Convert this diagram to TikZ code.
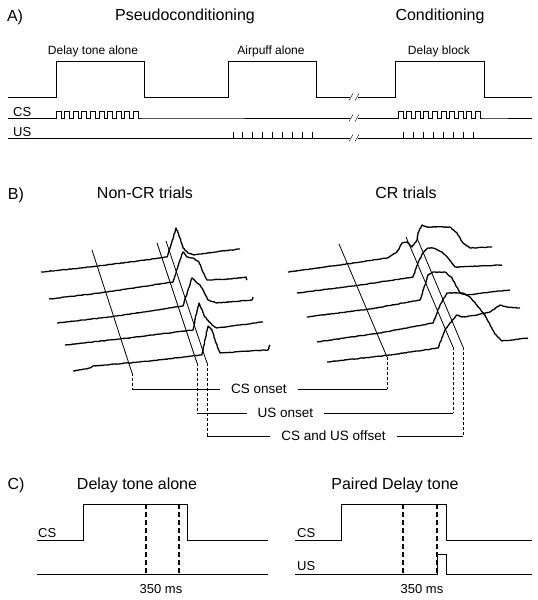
\documentclass[tikz,border=0pt]{standalone}
\usepackage{fontspec}
\setmainfont{Liberation Sans}
\usetikzlibrary{decorations.pathmorphing}

\begin{document}
\pgfmathsetseed{17}
\begin{tikzpicture}[x=1pt, y=-1pt,
    panelletter/.style	= {font=\fontsize{16}{18}\selectfont},
    heading/.style		= {font=\fontsize{16}{18}\selectfont},
    blocklabel/.style	= {font=\fontsize{12}{14}\selectfont},
    siglabel/.style		= {font=\fontsize{13}{15}\selectfont, anchor=base west, inner sep=0pt},
    evlabel/.style		= {font=\fontsize{13.5}{16}\selectfont, fill=white, inner xsep=11pt, inner ysep=1pt},
    waveline/.style		= {line width=1pt},
    trace/.style		= {line width=1.3pt, line join=round, decorate,
                           decoration={random steps, segment length=1.6pt, amplitude=0.3pt}},
    eventline/.style	= {line width=0.8pt},
    dropline/.style		= {line width=0.6pt, dash pattern=on 3pt off 2pt},
    gateline/.style		= {line width=1.2pt, dash pattern=on 5pt off 3pt},
    %breakmark/.style	= {thin},
    ]
\useasboundingbox (0,0) rectangle (538,600);

% ---------- A) ----------
\node[panelletter] (labA) at (15,17) {A)};
\node[heading] (pseudo) at (185,16) {Pseudoconditioning};
\node[heading] (cond) at (440,16) {Conditioning};
\node[blocklabel] (toneAlone) at (93,51) {Delay tone alone};
\node[blocklabel] (puffAlone) at (271,51) {Airpuff alone};
\node[blocklabel] (delayBlock) at (439,51) {Delay block};

% block line
\draw[waveline] (8,97) -- (56,97) -- (56,61) -- (144,61) -- (144,97) -- (228,97) -- (228,61) -- (316,61) -- (316,97) -- (350,97);
\draw[waveline] (358,97) -- (395,97) -- (395,61) -- (484,61) -- (484,97) -- (532,97);

% CS line
\node[siglabel] (csA) at (13,116) {CS};
\draw[waveline] (8,118) -- (56,118) \foreach \k in {1,...,10}{ -- ++(0,-7) -- ++(5,0) -- ++(0,7) -- ++(3.6,0)} -- (350,118);
\draw[waveline] (358,118) -- (398,118) \foreach \k in {1,...,10}{ -- ++(0,-7) -- ++(5,0) -- ++(0,7) -- ++(3.6,0)} -- (532,118);

% US line
\node[siglabel] (usA) at (13,136.5) {US};
\draw[waveline] (8,138) -- (350,138);
\draw[waveline] (358,138) -- (532,138);
\foreach \k in {0,...,8} \draw[waveline] ({233+9.9*\k},138) -- ++(0,-6);
\foreach \k in {0,...,7} \draw[waveline] ({403+10*\k},138) -- ++(0,-6);

% breaks
\foreach \y in {97,118,138} {
    \draw[thin] (349,\y+3.5) -- (353,\y-3.5);
    \draw[thin] (355,\y+3.5) -- (359,\y-3.5);
}

% ---------- B) ----------
\node[panelletter] (labB) at (16,195) {B)};
\node[heading] (nonCR) at (145,193) {Non-CR trials};
\node[heading] (CR) at (406,193) {CR trials};

% non-CR traces
\draw[trace] (41,272) -- (90,267) -- (130,262) -- (167,257) -- (171,245) -- (176,228) -- (180,238) -- (183,248) -- (188,253) -- (194,255) -- (215,252) -- (240,249);
\draw[trace] (49,299) -- (100,293) -- (140,287) -- (173,282) -- (178,266) -- (183,252) -- (187,257) -- (193,258) -- (199,262) -- (203,272) -- (207,280) -- (230,279) -- (246,277) -- (247,280);
\draw[trace] (57,323) -- (110,317) -- (150,311) -- (183,306) -- (188,290) -- (192,278) -- (197,283) -- (200,285) -- (203,290) -- (208,300) -- (217,303) -- (240,301) -- (252,300) -- (253,297);
\draw[trace] (65,345) -- (120,339) -- (160,334) -- (193,330) -- (196,315) -- (199,303) -- (205,317) -- (212,325) -- (217,328) -- (240,325) -- (263,322);
\draw[trace] (73,371) -- (90,368) -- (93,366) -- (140,362) -- (202,355) -- (205,340) -- (208,326) -- (212,330) -- (215,340) -- (220,353) -- (250,351) -- (268,350) -- (270,345);

% CR traces
\draw[trace] (288,272) -- (340,265) -- (387,258) -- (397,252) -- (402,243) -- (407,242) -- (412,247) -- (417,240) -- (418,233) -- (422,225) -- (427,227) -- (450,227) -- (457,233) -- (463,243) -- (470,248) -- (492,247);
\draw[trace] (297,293) -- (360,285) -- (413,277) -- (418,263) -- (423,253) -- (428,248) -- (433,248) -- (442,252) -- (448,258) -- (455,267) -- (480,266) -- (502,265);
\draw[trace] (307,317) -- (370,309) -- (420,300) -- (425,285) -- (428,275) -- (433,272) -- (445,272) -- (452,278) -- (460,293) -- (467,295) -- (490,292) -- (510,290);
\draw[trace] (317,342) -- (380,333) -- (433,323) -- (440,305) -- (447,293) -- (463,293) -- (470,297) -- (485,315) -- (495,334) -- (502,341) -- (528,338);
\draw[trace] (327,362) -- (390,355) -- (438,348) -- (445,330) -- (450,323) -- (457,315) -- (462,317) -- (470,316) -- (477,315) -- (490,312) -- (500,305) -- (507,307) -- (520,308);

% event lines
\coordinate (ncCsT) at (92,250);   \coordinate (ncCsB) at (132,373);
\coordinate (ncUsT) at (157,243);  \coordinate (ncUsB) at (197,363);
\coordinate (ncOffT) at (166,241); \coordinate (ncOffB) at (207,363);
\coordinate (crCsT) at (339,244);  \coordinate (crCsB) at (387,357);
\coordinate (crUsT) at (406,237);  \coordinate (crUsB) at (453,347);
\coordinate (crOffT) at (417,238); \coordinate (crOffB) at (463,347);
\draw[eventline] (ncCsT) -- (ncCsB);
\draw[eventline] (ncUsT) -- (ncUsB);
\draw[eventline] (ncOffT) -- (ncOffB);
\draw[eventline] (crCsT) -- (crCsB);
\draw[eventline] (crUsT) -- (crUsB);
\draw[eventline] (crOffT) -- (crOffB);

\node[evlabel] (csOnset) at (259,389) {CS onset};
\node[evlabel] (usOnset) at (285.5,413) {US onset};
\node[evlabel] (offset) at (333.5,436) {CS and US offset};
\coordinate (csOnL) at (132,389);  \coordinate (csOnR) at (387,389);
\coordinate (usOnL) at (197,413);  \coordinate (usOnR) at (453,413);
\coordinate (offL) at (207,436);   \coordinate (offR) at (463,436);
\draw[dropline] (ncCsB) -- (csOnL);
\draw[dropline] (crCsB) -- (csOnR);
\draw[dropline] (ncUsB) -- (usOnL);
\draw[dropline] (crUsB) -- (usOnR);
\draw[dropline] (ncOffB) -- (offL);
\draw[dropline] (crOffB) -- (offR);
\draw[eventline] (csOnL) -- (csOnset);
\draw[eventline] (csOnset) -- (csOnR);
\draw[eventline] (usOnL) -- (usOnset);
\draw[eventline] (usOnset) -- (usOnR);
\draw[eventline] (offL) -- (offset);
\draw[eventline] (offset) -- (offR);

% ---------- C) ----------
\node[panelletter] (labC) at (16,485) {C)};
\node[heading] (aloneC) at (137,485) {Delay tone alone};
\node[heading] (pairedC) at (395,485) {Paired Delay tone};

% delay tone alone
\node[siglabel] (csC1) at (38,537) {CS};
\draw[waveline] (37,540) -- (83,540) -- (83,504) -- (187,504) -- (187,540) -- (268,540);
\draw[waveline] (37,574) -- (268,574);
\coordinate (g1T) at (146,504); \coordinate (g1B) at (146,574);
\coordinate (g2T) at (179,504); \coordinate (g2B) at (179,574);
\draw[gateline] (g1T) -- (g1B);
\draw[gateline] (g2T) -- (g2B);
\node[siglabel, anchor=center] (ms1) at (161,589) {350 ms};

% paired delay tone
\node[siglabel] (csC2) at (297,537) {CS};
\node[siglabel] (usC2) at (297,570) {US};
\draw[waveline] (295,540) -- (341,540) -- (341,504) -- (446,504) -- (446,540) -- (532,540);
\draw[waveline] (295,574) -- (437,574) -- (437,554) -- (446,554) -- (446,574) -- (532,574);
\coordinate (g3T) at (403,504); \coordinate (g3B) at (403,574);
\coordinate (g4T) at (437,504); \coordinate (g4B) at (437,574);
\draw[gateline] (g3T) -- (g3B);
\draw[gateline] (g4T) -- (g4B);
\node[siglabel, anchor=center] (ms2) at (422,589) {350 ms};

\end{tikzpicture}
\end{document}
